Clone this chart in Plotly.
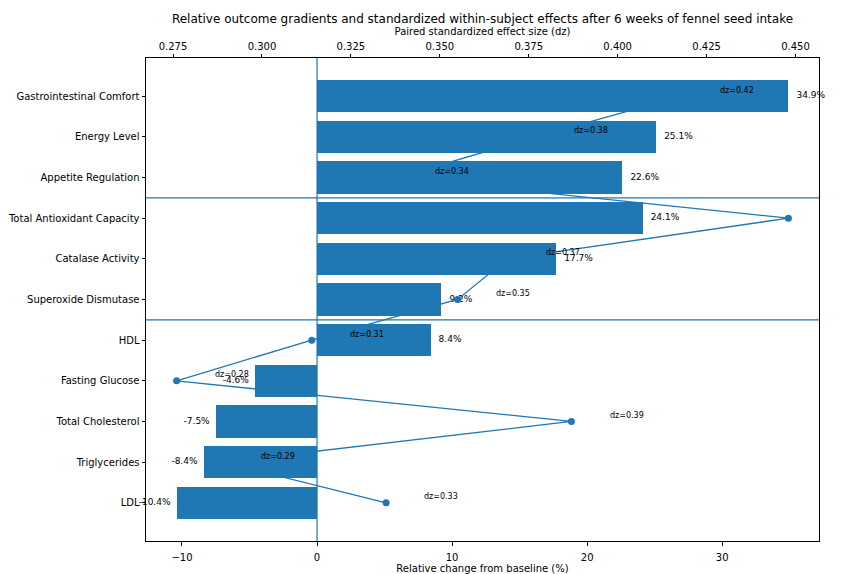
import plotly.graph_objects as go

# Outcomes in plotting order (top to bottom)
categories = [
    "Gastrointestinal Comfort",
    "Energy Level",
    "Appetite Regulation",
    "Total Antioxidant Capacity",
    "Catalase Activity",
    "Superoxide Dismutase",
    "HDL",
    "Fasting Glucose",
    "Total Cholesterol",
    "Triglycerides",
    "LDL",
]
# Relative change from baseline (%)
pct_change = [34.9, 25.1, 22.6, 24.1, 17.7, 9.2, 8.4, -4.6, -7.5, -8.4, -10.4]
# Paired standardized effect size (Cohen's dz)
dz_values = [0.418, 0.377, 0.338, 0.448, 0.369, 0.355, 0.314, 0.276, 0.387, 0.289, 0.3349]

pct_ticks = [-10, 0, 10, 20, 30]
dz_ticks = [0.275, 0.300, 0.325, 0.350, 0.375, 0.400, 0.425, 0.450]

# Group boundaries (between outcome domains)
group_breaks = [2.5, 5.5]

BLUE = "#1f77b4"
FONT = "DejaVu Sans"

pos = list(range(len(categories)))
BAR_H = 0.8


def padded(lo, hi, frac=0.05):
    span = hi - lo
    return [lo - frac * span, hi + frac * span]


x_range = padded(min(min(pct_change), 0), max(max(pct_change), 0))
dz_range = padded(min(dz_values), max(dz_values))
y_lo, y_hi = padded(pos[0] - BAR_H / 2, pos[-1] + BAR_H / 2)
y_range = [y_hi, y_lo]  # first category on top

pct_x = [v + 0.6 if v >= 0 else v - 0.45 for v in pct_change]
pct_pos = ["middle right" if v >= 0 else "middle left" for v in pct_change]

fig = go.Figure()

# Percentage labels (bottom layer)
fig.add_trace(go.Scatter(
    x=pct_x, y=pos, mode="text",
    text=[f"{v:.1f}%" for v in pct_change],
    textposition=pct_pos,
    textfont=dict(family=FONT, size=9, color="black"),
    cliponaxis=False, hoverinfo="skip", showlegend=False,
    xaxis="x", yaxis="y",
))

# Effect-size profile on the top axis
fig.add_trace(go.Scatter(
    x=dz_values, y=pos, mode="lines+markers",
    line=dict(color=BLUE, width=1.3),
    marker=dict(color=BLUE, size=7),
    hoverinfo="skip", showlegend=False,
    xaxis="x2", yaxis="y",
))

# Relative-change bars
fig.add_trace(go.Bar(
    x=pct_change, y=pos, orientation="h", width=BAR_H,
    marker=dict(color=BLUE, line=dict(width=0)),
    hoverinfo="skip", showlegend=False,
    xaxis="x3", yaxis="y",
))

annotations = [
    dict(
        x=d + 0.0102, y=p - 0.15, xref="x2", yref="y",
        text=f"dz={d:.2f}", showarrow=False,
        xanchor="left", yanchor="middle",
        font=dict(family=FONT, size=8, color="black"),
    )
    for d, p in zip(dz_values, pos)
]

shapes = [
    dict(type="line", xref="x", yref="paper", x0=0, x1=0, y0=0, y1=1,
         line=dict(color=BLUE, width=1.2), layer="above")
]
for yb in group_breaks:
    shapes.append(dict(type="line", xref="paper", yref="y", x0=0, x1=1,
                       y0=yb, y1=yb, line=dict(color=BLUE, width=1.2), layer="above"))

axis_common = dict(
    showgrid=False, zeroline=False, showline=True, linecolor="black",
    linewidth=1, ticks="outside", ticklen=3.5, tickwidth=0.8, tickcolor="black",
    tickfont=dict(family=FONT, size=10, color="black"), automargin=False,
)

fig.update_layout(
    width=857, height=574,
    margin=dict(l=146, r=38, t=58, b=33),
    plot_bgcolor="white", paper_bgcolor="white",
    font=dict(family=FONT, size=10, color="black"),
    title=dict(
        text="Relative outcome gradients and standardized within-subject effects after 6 weeks of fennel seed intake",
        font=dict(family=FONT, size=12, color="black"),
        x=0.5, xref="paper", xanchor="center",
        y=1 - 19 / 574, yref="container", yanchor="middle",
    ),
    xaxis=dict(
        **axis_common, range=x_range, tickvals=pct_ticks, mirror=True,
        ticklabelstandoff=3,
        title=dict(text="Relative change from baseline (%)", standoff=3,
                   font=dict(family=FONT, size=10, color="black")),
    ),
    xaxis2=dict(
        **axis_common, range=dz_range, tickvals=dz_ticks, tickformat=".3f",
        overlaying="x", side="top", anchor="y",
        title=dict(text="Paired standardized effect size (dz)", standoff=3,
                   font=dict(family=FONT, size=10, color="black")),
    ),
    xaxis3=dict(overlaying="x", matches="x", visible=False, anchor="y"),
    yaxis=dict(
        **axis_common, range=y_range, tickvals=pos, ticktext=categories, mirror=True,
    ),
    annotations=annotations,
    shapes=shapes,
    bargap=0,
)

fig.write_html("out.html")
